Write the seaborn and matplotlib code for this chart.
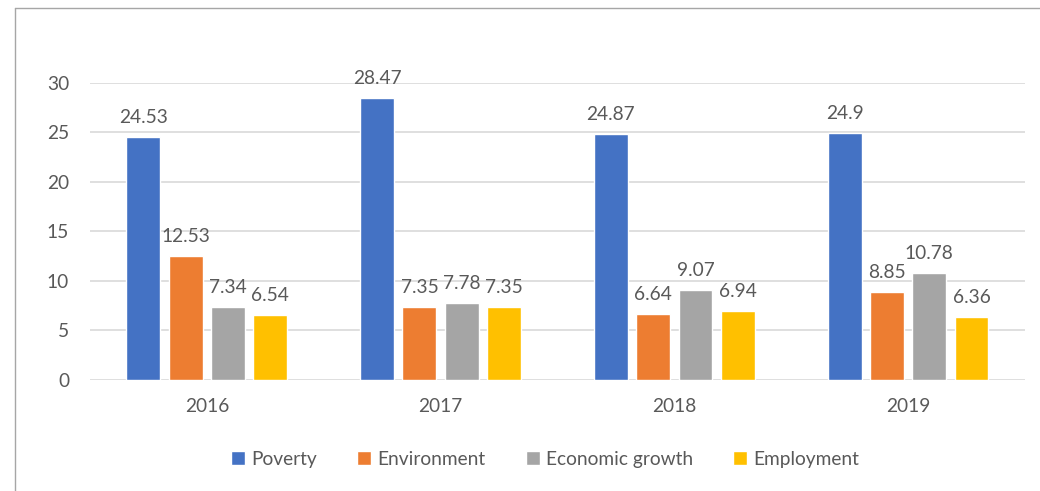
import matplotlib
matplotlib.use("Agg")
import matplotlib.pyplot as plt
from matplotlib.lines import Line2D
import seaborn as sns
import pandas as pd

years = ["2016", "2017", "2018", "2019"]
series = ["Poverty", "Environment", "Economic growth", "Employment"]
poverty = [24.53, 28.47, 24.87, 24.9]
environment = [12.53, 7.35, 6.64, 8.85]
economic_growth = [7.34, 7.78, 9.07, 10.78]
employment = [6.54, 7.35, 6.94, 6.36]
colors = ["#4472C4", "#ED7D31", "#A5A5A5", "#FFC000"]

rows = []
for name, vals in zip(series, [poverty, environment, economic_growth, employment]):
    for y, v in zip(years, vals):
        rows.append({"Year": y, "Series": name, "Value": v})
df = pd.DataFrame(rows)

sns.set_theme(style="white")
plt.rcParams["font.family"] = ["Lato", "DejaVu Sans"]
text_color = "#595959"
grid_color = "#D9D9D9"
fs = 13.8

fig = plt.figure(figsize=(10.4, 4.91), dpi=100)
ax = fig.add_axes([0.0865, 0.2261, 0.899, 0.6049])

sns.barplot(data=df, x="Year", y="Value", hue="Series", order=years,
            hue_order=series, palette=colors, width=0.724, gap=0.2,
            saturation=1, ax=ax, legend=True, errorbar=None)

ax.set_ylim(0, 30)
ax.set_xlim(-0.5, 3.5)
ax.set_yticks([0, 5, 10, 15, 20, 25, 30])
ax.yaxis.grid(True, color=grid_color, linewidth=1.2)
ax.set_axisbelow(True)
for s in ax.spines.values():
    s.set_visible(False)
ax.tick_params(axis="both", length=0, labelsize=fs, colors=text_color)
ax.tick_params(axis="y", pad=15)
ax.tick_params(axis="x", pad=13)
ax.set_xlabel("")
ax.set_ylabel("")

for cont in ax.containers:
    for bar, v in zip(cont, cont.datavalues):
        ax.annotate(f"{v:g}", (bar.get_x() + bar.get_width() / 2, v),
                    xytext=(0, 8), textcoords="offset points",
                    ha="center", va="bottom", fontsize=fs, color=text_color)

handles, labels = ax.get_legend_handles_labels()
ax.legend_.remove()
fig.legend(handles, labels, loc="center", bbox_to_anchor=(0.524, 0.065),
           ncol=4, frameon=False, fontsize=fs, handlelength=0.75,
           handleheight=0.75, handletextpad=0.3, columnspacing=2.1,
           labelcolor=text_color)

# chart frame (left and top edges)
frame_color = "#A6A6A6"
fig.add_artist(Line2D([0.0144, 0.0144], [0.0, 0.9847], color=frame_color,
                      linewidth=1.0, transform=fig.transFigure))
fig.add_artist(Line2D([0.0144, 1.0], [0.9847, 0.9847], color=frame_color,
                      linewidth=1.0, transform=fig.transFigure))

fig.savefig("out.png", dpi=100)
